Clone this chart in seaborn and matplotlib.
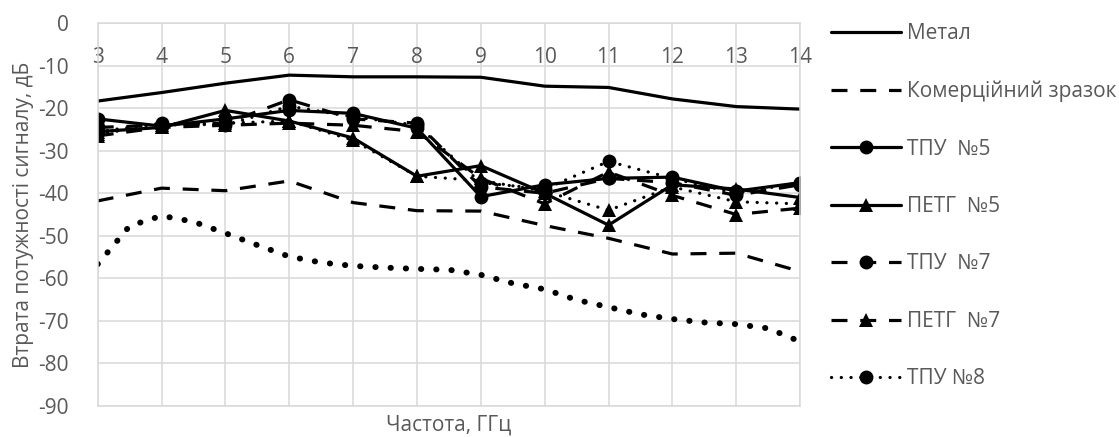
import numpy as np
import pandas as pd
import matplotlib
matplotlib.use("Agg")
import matplotlib.pyplot as plt
import seaborn as sns

# ---------------- data ----------------
freq = [3, 4, 5, 6, 7, 8, 9, 10, 11, 12, 13, 14]
freq_half = [3, 3.5, 4, 4.5, 5, 5.5, 6, 6.5, 7, 7.5, 8, 8.5, 9, 9.5,
             10, 10.5, 11, 11.5, 12, 12.5, 13, 13.5, 14]

metal = [-18.3, -16.3, -14.1, -12.2, -12.6, -12.6, -12.7, -14.8, -15.1, -17.8, -19.6, -20.2]
commercial = [-41.8, -38.8, -39.4, -37.1, -42.2, -44.1, -44.2, -47.6, -50.6, -54.3, -54.1, -58.4]
tpu5 = [-22.5, -24.2, -22.5, -20.5, -21.2, -24.7, -40.8, -38.0, -36.5, -36.2, -39.5, -37.5]
petg5 = [-25.5, -24.5, -20.5, -23.0, -27.0, -36.0, -33.5, -40.0, -47.5, -38.0, -39.0, -41.0]
tpu7 = [-24.5, -24.0, -23.5, -18.0, -22.5, -23.5, -38.5, -40.0, -36.5, -37.5, -40.5, -38.0]
petg7 = [-26.5, -24.5, -24.0, -23.5, -24.0, -25.5, -36.5, -42.5, -35.0, -40.5, -45.0, -43.5]
tpu8 = [-25.5, -23.5, -24.0, -19.5, -22.0, -24.0, -37.5, -39.0, -32.5, -36.5, -40.0, -37.5]
petg8 = [-26.0, -24.0, -23.5, -23.0, -27.5, -36.0, -37.0, -39.5, -44.0, -38.5, -42.0, -42.5]
lower_dotted = [-56.7, -47.7, -45.3, -46.7, -49.4, -52.2, -54.9, -56.3, -57.1, -57.5,
                -57.8, -58.0, -59.2, -61.2, -62.6, -65.1, -66.8, -68.5, -69.6, -70.4,
                -70.8, -71.8, -74.9]

x_ticks = list(range(3, 15))
y_ticks = list(range(-90, 1, 10))

legend_labels = ["Метал", "Комерційний зразок", "ТПУ  №5", "ПЕТГ  №5",
                 "ТПУ  №7", "ПЕТГ  №7", "ТПУ №8"]

# ---------------- style ----------------
sns.set_theme(style="white")
plt.rcParams["font.family"] = ["Open Sans", "DejaVu Sans"]
plt.rcParams["axes.unicode_minus"] = False

TEXT = "#595959"
GRID = "#d9d9d9"
LW = 2.3
MS = 10
FS = 15

fig = plt.figure(figsize=(11.19, 4.37), dpi=100)
ax = fig.add_axes([0.0873, 0.0716, 0.715 - 0.0873, 0.9467 - 0.0716])

dash = (0, (5, 4))
dot = (0, (0.05, 3.0))

series = [
    (freq, metal, legend_labels[0], "-", None),
    (freq, commercial, legend_labels[1], dash, None),
    (freq, tpu5, legend_labels[2], "-", "o"),
    (freq, petg5, legend_labels[3], "-", "^"),
    (freq, tpu7, legend_labels[4], dash, "o"),
    (freq, petg7, legend_labels[5], dash, "^"),
    (freq, tpu8, legend_labels[6], dot, "o"),
    (freq, petg8, "_nolegend_", dot, "^"),
]

for xs, ys, lab, ls, mk in series:
    kw = dict(x=xs, y=ys, ax=ax, color="black", linewidth=LW, linestyle=ls,
              estimator=None, sort=False, label=lab,
              dash_capstyle="round" if ls is dot else "butt",
              solid_capstyle="round")
    if mk is not None:
        kw.update(marker=mk, markersize=MS, markeredgewidth=0)
    sns.lineplot(**kw)

sns.lineplot(x=freq_half, y=lower_dotted, ax=ax, color="black", linewidth=4.3,
             linestyle=(0, (0.05, 2.5)), dash_capstyle="round",
             estimator=None, sort=False, label="_nolegend_")

if ax.get_legend() is not None:
    ax.get_legend().remove()

# ---------------- axes ----------------
ax.set_xlim(3, 14)
ax.set_ylim(-90, 0)
ax.set_xticks(x_ticks)
ax.set_yticks(y_ticks)
ax.set_xticklabels([str(v) for v in x_ticks])
ax.set_yticklabels([str(v) for v in y_ticks])
ax.grid(True, color=GRID, linewidth=1.1)
ax.set_axisbelow(True)
for sp in ax.spines.values():
    sp.set_color(GRID)
    sp.set_linewidth(1.1)

ax.xaxis.set_ticks_position("top")
ax.xaxis.set_label_position("bottom")
ax.tick_params(axis="x", top=False, bottom=False, labeltop=True, labelbottom=False,
               pad=-38, labelsize=FS, labelcolor=TEXT)
ax.tick_params(axis="y", left=False, pad=15, labelsize=FS, labelcolor=TEXT)

ax.set_xlabel("Частота, ГГц", fontsize=FS, color=TEXT, labelpad=6)
ax.set_ylabel("Втрата потужності сигналу, дБ", fontsize=FS, color=TEXT, labelpad=3)

handles, labels = ax.get_legend_handles_labels()
leg = fig.legend(handles, labels, loc="upper left", bbox_to_anchor=(0.743, 0.947),
                 frameon=False, fontsize=FS, handlelength=3.35, handletextpad=0.3,
                 labelspacing=1.75, borderpad=0, borderaxespad=0)
for t in leg.get_texts():
    t.set_color(TEXT)

fig.savefig("out.png", dpi=100)
